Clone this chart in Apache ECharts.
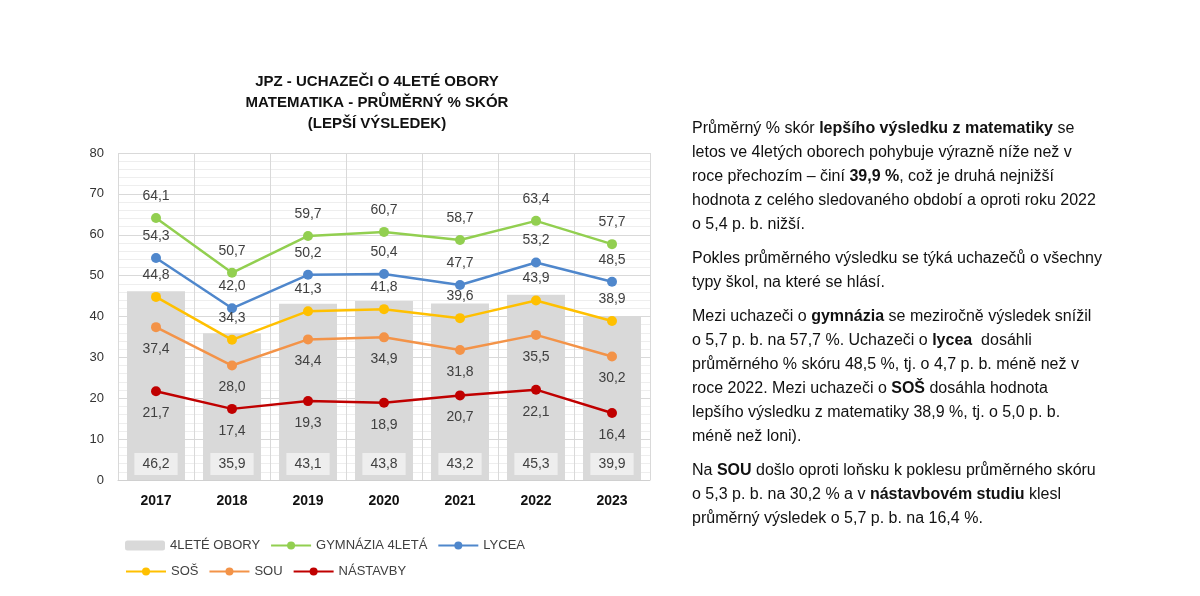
<!DOCTYPE html>
<html><head><meta charset="utf-8">
<script src="https://cdn.jsdelivr.net/npm/echarts@6/dist/echarts.min.js"></script>
<style>
body{margin:0;background:#fff;}
#c{position:absolute;left:0;top:0;width:1200px;height:596px;}
#t{position:absolute;left:692px;top:116px;width:410px;line-height:24px;color:#111;font-family:"Liberation Sans","Noto Sans",sans-serif;font-size:16px;}
#t p{margin:0 0 10px 0;}
</style></head><body>
<div id="c"></div>
<div id="t">
<p>Průměrný % skór <b>lepšího výsledku z matematiky</b> se letos ve 4letých oborech pohybuje výrazně níže než v roce přechozím – činí <b>39,9 %</b>, což je druhá nejnižší hodnota z celého sledovaného období a oproti roku 2022 o 5,4 p. b. nižší.</p>
<p>Pokles průměrného výsledku se týká uchazečů o všechny typy škol, na které se hlásí.</p>
<p>Mezi uchazeči o <b>gymnázia</b> se meziročně výsledek snížil o 5,7 p. b. na 57,7 %. Uchazeči o <b>lycea</b>&nbsp; dosáhli průměrného % skóru 48,5 %, tj. o 4,7 p. b. méně než v roce 2022. Mezi uchazeči o <b>SOŠ</b> dosáhla hodnota lepšího výsledku z matematiky 38,9 %, tj. o 5,0 p. b. méně než loni).</p>
<p>Na <b>SOU</b> došlo oproti loňsku k poklesu průměrného skóru o 5,3 p. b. na 30,2 % a v <b>nástavbovém studiu</b> klesl průměrný výsledek o 5,7 p. b. na 16,4 %.</p>
</div>
<script>
const years=['2017','2018','2019','2020','2021','2022','2023'];
const obory=[46.2,35.9,43.1,43.8,43.2,45.3,39.9];
const gymnazia=[64.1,50.7,59.7,60.7,58.7,63.4,57.7];
const lycea=[54.3,42.0,50.2,50.4,47.7,53.2,48.5];
const sos=[44.8,34.3,41.3,41.8,39.6,43.9,38.9];
const sou=[37.4,28.0,34.4,34.9,31.8,35.5,30.2];
const nastavby=[21.7,17.4,19.3,18.9,20.7,22.1,16.4];
const fmt=p=>p.value.toFixed(1).replace('.',',');
const lbl=(pos)=>({show:true,position:pos,distance:10,formatter:fmt,color:'#404040',fontSize:14,fontFamily:'Liberation Sans'});
const line=(name,data,color,pos)=>({name,type:'line',data,symbol:'circle',symbolSize:10,itemStyle:{color},lineStyle:{color,width:2.5},label:lbl(pos)});
const lt={color:'#404040',fontSize:13,width:120,fontFamily:'Liberation Sans'};
const ch=echarts.init(document.getElementById('c'));
ch.setOption({
 animation:false,
 title:{text:'JPZ - UCHAZEČI O 4LETÉ OBORY\nMATEMATIKA - PRŮMĚRNÝ % SKÓR\n(LEPŠÍ VÝSLEDEK)',left:372,top:66,textAlign:'center',textStyle:{fontSize:15,fontWeight:'bold',color:'#111',lineHeight:21,fontFamily:'Liberation Sans'}},
 grid:{left:118,top:153,width:532,height:327},
 xAxis:{type:'category',data:years,axisTick:{show:false},axisLine:{lineStyle:{color:'#d0d0d0'}},splitLine:{show:true,lineStyle:{color:'#d9d9d9'}},axisLabel:{color:'#111',fontWeight:'bold',fontSize:14,margin:14,fontFamily:'Liberation Sans'}},
 yAxis:{type:'value',min:0,max:80,interval:10,axisLabel:{color:'#333',fontSize:13,margin:14,fontFamily:'Liberation Sans'},splitLine:{lineStyle:{color:'#d9d9d9'}},minorTick:{show:false,splitNumber:5},minorSplitLine:{show:true,lineStyle:{color:'#eeeeee'}},axisLine:{show:false}},
 legend:[
  {left:120,top:534,itemGap:10,itemWidth:40,itemHeight:10,textStyle:lt,data:['4LETÉ OBORY','GYMNÁZIA 4LETÁ','LYCEA']},
  {left:120,top:560,itemGap:10,itemWidth:40,itemHeight:10,textStyle:lt,data:['SOŠ','SOU','NÁSTAVBY']}
 ],
 series:[
  {name:'4LETÉ OBORY',type:'bar',data:obory,barWidth:58,itemStyle:{color:'#d9d9d9'},
   label:{show:true,position:'insideBottom',distance:5,formatter:fmt,color:'#404040',fontSize:14,backgroundColor:'#eeeeee',padding:[4,8],fontFamily:'Liberation Sans'}},
  line('GYMNÁZIA 4LETÁ',gymnazia,'#92cf50','top'),
  line('LYCEA',lycea,'#4f87cc','top'),
  line('SOŠ',sos,'#ffc000','top'),
  line('SOU',sou,'#f39348','bottom'),
  line('NÁSTAVBY',nastavby,'#c00000','bottom')
 ]
});
</script></body></html>
